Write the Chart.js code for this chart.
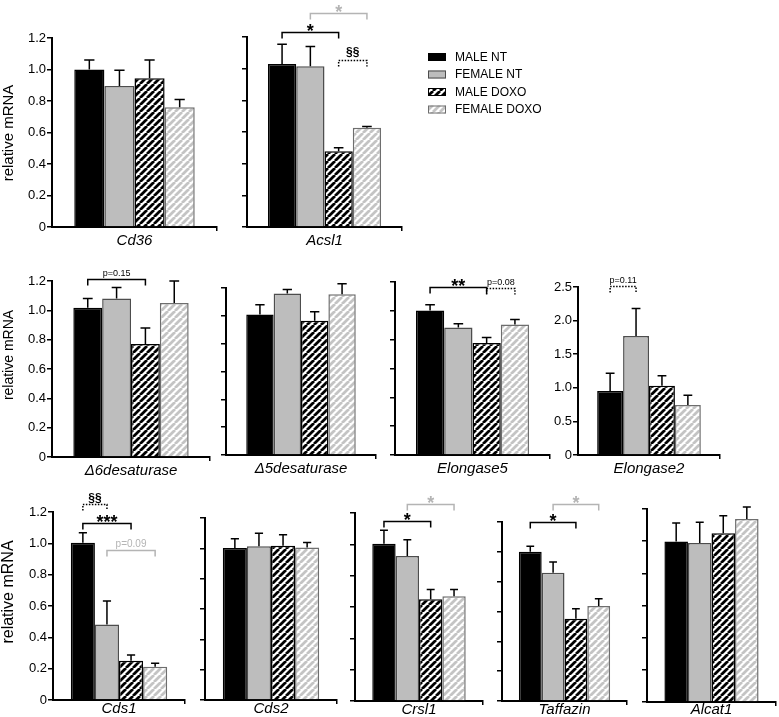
<!DOCTYPE html>
<html>
<head>
<meta charset="utf-8">
<script src="https://cdn.jsdelivr.net/npm/chart.js@4.4.0/dist/chart.umd.min.js"></script>
<style>
html, body { margin: 0; padding: 0; background: #fff; }
#fig { position: relative; width: 779px; height: 717px; overflow: hidden; }
#fig canvas { position: absolute; }
</style>
</head>
<body>
<div id="fig"></div>
<script>
// groups and tick values
const groups = ['MALE NT', 'FEMALE NT', 'MALE DOXO', 'FEMALE DOXO'];
const mrnaTicks = [0, 0.2, 0.4, 0.6, 0.8, 1.0, 1.2];
const elong2Ticks = [0, 0.5, 1.0, 1.5, 2.0, 2.5];

// mean relative mRNA and SEM, order as in groups
const cd36 = [1.00, 0.895, 0.945, 0.76];
const cd36Sem = [0.06, 0.10, 0.115, 0.05];
const acsl1 = [1.03, 1.015, 0.478, 0.627];
const acsl1Sem = [0.125, 0.125, 0.022, 0.008];
const d6desat = [1.018, 1.08, 0.77, 1.05];
const d6desatSem = [0.062, 0.075, 0.11, 0.15];
const d5desat = [1.01, 1.16, 0.965, 1.155];
const d5desatSem = [0.07, 0.03, 0.065, 0.075];
const elong5 = [1.003, 0.884, 0.777, 0.905];
const elong5Sem = [0.04, 0.026, 0.038, 0.035];
const elong2 = [0.952, 1.77, 1.03, 0.744];
const elong2Sem = [0.263, 0.41, 0.15, 0.144];
const cds1 = [1.004, 0.482, 0.25, 0.212];
const cds1Sem = [0.064, 0.15, 0.037, 0.022];
const cds2 = [1.002, 1.013, 1.017, 1.006];
const cds2Sem = [0.061, 0.087, 0.073, 0.033];
const crsl1 = [1.004, 0.925, 0.649, 0.668];
const crsl1Sem = [0.086, 0.105, 0.062, 0.043];
const taffazin = [1.0, 0.86, 0.552, 0.637];
const taffazinSem = [0.037, 0.072, 0.067, 0.049];
const alcat1 = [0.998, 0.988, 1.05, 1.138];
const alcat1Sem = [0.115, 0.129, 0.108, 0.075];

Chart.defaults.font.family = 'Arial, "Liberation Sans", Helvetica, sans-serif';
Chart.defaults.color = '#000';

const BLACK = '#000';
const GREY = '#b4b4b4';

function hatch(stripe) {
  const p = 7;
  const c = document.createElement('canvas');
  c.width = p; c.height = p;
  const g = c.getContext('2d');
  g.fillStyle = '#fff';
  g.fillRect(0, 0, p, p);
  g.strokeStyle = stripe;
  g.lineWidth = 2.8;
  g.beginPath();
  for (let k = -1; k <= 1; k++) {
    g.moveTo(k * p, p);
    g.lineTo(k * p + p, 0);
  }
  g.stroke();
  return g.createPattern(c, 'repeat');
}

const fills = ['#000', '#bdbdbd', hatch('#000'), hatch('#c4c4c4')];
const edges = ['#000', '#4d4d4d', '#000', '#6e6e6e'];

// error bars: upward SEM whiskers
const errorBars = {
  id: 'errorBars',
  afterDatasetsDraw(chart) {
    const ctx = chart.ctx, y = chart.scales.y;
    chart.data.datasets.forEach((ds, i) => {
      chart.getDatasetMeta(i).data.forEach((bar, j) => {
        const v = ds.data[j];
        const y0 = y.getPixelForValue(v);
        const y1 = y.getPixelForValue(v + ds.sem[j]);
        const cap = bar.width * 0.17;
        ctx.save();
        ctx.strokeStyle = '#000';
        ctx.lineWidth = 1.5;
        ctx.beginPath();
        ctx.moveTo(bar.x, y0);
        ctx.lineTo(bar.x, y1);
        ctx.moveTo(bar.x - cap, y1);
        ctx.lineTo(bar.x + cap, y1);
        ctx.stroke();
        ctx.restore();
      });
    });
  }
};

// significance brackets
const brackets = {
  id: 'brackets',
  afterDraw(chart, args, opts) {
    const ctx = chart.ctx, y = chart.scales.y;
    (opts.marks || []).forEach(m => {
      const xa = chart.getDatasetMeta(m.from).data[0].x;
      const xb = chart.getDatasetMeta(m.to).data[0].x;
      const py = Math.round(y.getPixelForValue(m.at)) + 0.5;
      ctx.save();
      ctx.strokeStyle = m.color;
      ctx.lineWidth = 1.5;
      if (m.dotted) ctx.setLineDash([1.5, 1.5]);
      ctx.beginPath();
      ctx.moveTo(xa, py + 6);
      ctx.lineTo(xa, py);
      ctx.lineTo(xb, py);
      ctx.lineTo(xb, py + 6);
      ctx.stroke();
      ctx.setLineDash([]);
      ctx.fillStyle = m.color;
      ctx.textAlign = 'center';
      ctx.textBaseline = 'alphabetic';
      ctx.font = (m.bold ? 'bold ' : '') + m.size + 'px ' + Chart.defaults.font.family;
      ctx.fillText(m.text, (xa + xb) / 2, py - m.lift);
      ctx.restore();
    });
  }
};

// axis title and legend
const extras = {
  id: 'extras',
  afterDraw(chart, args, opts) {
    const ctx = chart.ctx, area = chart.chartArea;
    if (opts.title) {
      ctx.save();
      ctx.translate(9, opts.title.cy);
      ctx.rotate(-Math.PI / 2);
      ctx.fillStyle = '#000';
      ctx.font = opts.title.size + 'px ' + Chart.defaults.font.family;
      ctx.textAlign = 'center';
      ctx.textBaseline = 'middle';
      ctx.fillText(opts.title.text, 0, 0);
      ctx.restore();
    }
    if (opts.legend) {
      const x0 = area.right + 26, y0 = area.top + 16;
      chart.data.datasets.forEach((ds, i) => {
        const yy = y0 + i * 17.5;
        ctx.save();
        ctx.fillStyle = ds.backgroundColor;
        ctx.fillRect(x0, yy, 18, 8);
        ctx.strokeStyle = ds.borderColor;
        ctx.lineWidth = 1;
        ctx.strokeRect(x0 + 0.5, yy + 0.5, 17, 7);
        ctx.fillStyle = '#000';
        ctx.font = '12px ' + Chart.defaults.font.family;
        ctx.textBaseline = 'middle';
        ctx.fillText(ds.label, x0 + 27, yy + 4.5);
        ctx.restore();
      });
    }
  }
};

const star = (from, to, at, color, text) => ({from, to, at, color, text, size: 18, bold: true, lift: -4});
const note = (from, to, at, color, text, size, dotted) => ({from, to, at, color, text, size, bold: false, lift: 4, dotted});

// box: [y-axis x, pixel of axis max, pixel of zero, x-axis end]
const panels = [
  {gene: 'Cd36', mean: cd36, sem: cd36Sem, ticks: mrnaTicks, row: 0, box: [52, 38, 227, 217], leftW: 52, labels: true,
   title: {text: 'relative mRNA', size: 15, cy: 133}, marks: []},
  {gene: 'Acsl1', mean: acsl1, sem: acsl1Sem, ticks: mrnaTicks, row: 0, box: [247, 37, 227, 402], leftW: 10, rightPad: 200, legend: true,
   marks: [star(0, 2, 1.232, BLACK, '*'), star(1, 3, 1.352, GREY, '*'), {from: 2, to: 3, at: 1.055, color: BLACK, text: '§§', size: 12, bold: true, lift: 5, dotted: true}]},
  {gene: 'Δ6desaturase', mean: d6desat, sem: d6desatSem, ticks: mrnaTicks, row: 262, box: [52, 281, 457, 210], leftW: 52, labels: true,
   title: {text: 'relative mRNA', size: 14, cy: 355 - 262}, marks: [note(0, 2, 1.213, BLACK, 'p=0.15', 9, false)]},
  {gene: 'Δ5desaturase', mean: d5desat, sem: d5desatSem, ticks: mrnaTicks, row: 262, box: [226, 288, 455, 376], leftW: 10, marks: []},
  {gene: 'Elongase5', mean: elong5, sem: elong5Sem, ticks: mrnaTicks, row: 262, box: [395, 282, 455, 550], leftW: 10,
   marks: [star(0, 2, 1.165, BLACK, '**'), note(2, 3, 1.157, BLACK, 'p=0.08', 9, true)]},
  {gene: 'Elongase2', mean: elong2, sem: elong2Sem, ticks: elong2Ticks, row: 262, box: [578, 287, 455, 720], leftW: 32, labels: true,
   marks: [note(0, 1, 2.515, BLACK, 'p=0.11', 9, true)]},
  {gene: 'Cds1', mean: cds1, sem: cds1Sem, ticks: mrnaTicks, row: 486, box: [53, 512, 700, 185], leftW: 53, labels: true, labelPad: -4,
   title: {text: 'relative mRNA', size: 16, cy: 592 - 486},
   marks: [{from: 0, to: 1, at: 1.248, color: BLACK, text: '§§', size: 12, bold: true, lift: 3, dotted: true},
           star(0, 2, 1.129, BLACK, '***'), note(1, 3, 0.955, GREY, 'p=0.09', 10, false)]},
  {gene: 'Cds2', mean: cds2, sem: cds2Sem, ticks: mrnaTicks, row: 486, box: [205, 518, 700, 337], leftW: 10, labelPad: -4, marks: []},
  {gene: 'Crsl1', mean: crsl1, sem: crsl1Sem, ticks: mrnaTicks, row: 486, box: [355, 513, 701, 483], leftW: 10, labelPad: -4,
   marks: [star(1, 3, 1.26, GREY, '*'), star(0, 2, 1.147, BLACK, '*')]},
  {gene: 'Taffazin', mean: taffazin, sem: taffazinSem, ticks: mrnaTicks, row: 486, box: [502, 522, 701, 627], leftW: 10, labelPad: -4,
   marks: [star(1, 3, 1.323, GREY, '*'), star(0, 2, 1.20, BLACK, '*')]},
  {gene: 'Alcat1', mean: alcat1, sem: alcat1Sem, ticks: mrnaTicks, row: 486, box: [647, 509, 702, 776], leftW: 10, rightPad: 2, labelPad: -5, marks: []}
];

const fig = document.getElementById('fig');

panels.forEach(p => {
  const [ax, top, zero, xEnd] = p.box;
  const rightPad = p.rightPad || 4;
  const bottomH = 24;
  const cv = document.createElement('canvas');
  cv.width = p.leftW + (xEnd - ax) + rightPad;
  cv.height = zero - p.row + bottomH;
  cv.style.left = (ax - p.leftW) + 'px';
  cv.style.top = p.row + 'px';
  fig.appendChild(cv);

  new Chart(cv, {
    type: 'bar',
    data: {
      labels: [p.gene],
      datasets: groups.map((g, i) => ({
        label: g,
        data: [p.mean[i]],
        sem: [p.sem[i]],
        backgroundColor: fills[i],
        borderColor: edges[i],
        borderWidth: 1.5,
        categoryPercentage: 0.73,
        barPercentage: 1
      }))
    },
    options: {
      responsive: false,
      animation: false,
      devicePixelRatio: 1,
      layout: {padding: {top: top - p.row, right: rightPad, left: 0, bottom: 0}},
      plugins: {
        legend: {display: false},
        tooltip: {enabled: false},
        brackets: {marks: p.marks},
        extras: {title: p.title, legend: p.legend}
      },
      scales: {
        x: {
          afterFit: s => { s.height = bottomH; },
          grid: {
            offset: true, drawOnChartArea: false, drawTicks: true, tickLength: 4, lineWidth: 1.5,
            color: c => c.index === 0 ? 'rgba(0,0,0,0)' : '#000'
          },
          border: {display: true, color: '#000', width: 2},
          ticks: {font: {size: 15, style: 'italic'}, color: '#000', padding: p.labelPad !== undefined ? p.labelPad : 1, maxRotation: 0}
        },
        y: {
          min: 0,
          max: p.ticks[p.ticks.length - 1],
          afterFit: s => { s.width = p.leftW; },
          afterBuildTicks: s => { s.ticks = p.ticks.map(v => ({value: v})); },
          grid: {drawOnChartArea: false, drawTicks: true, tickLength: 5, lineWidth: 1.5, color: '#000'},
          border: {display: true, color: '#000', width: 2},
          ticks: {
            display: !!p.labels, font: {size: 13}, color: '#000', padding: 1,
            callback: v => v === 0 ? '0' : v.toFixed(1)
          }
        }
      }
    },
    plugins: [errorBars, brackets, extras]
  });
});
</script>
</body>
</html>
